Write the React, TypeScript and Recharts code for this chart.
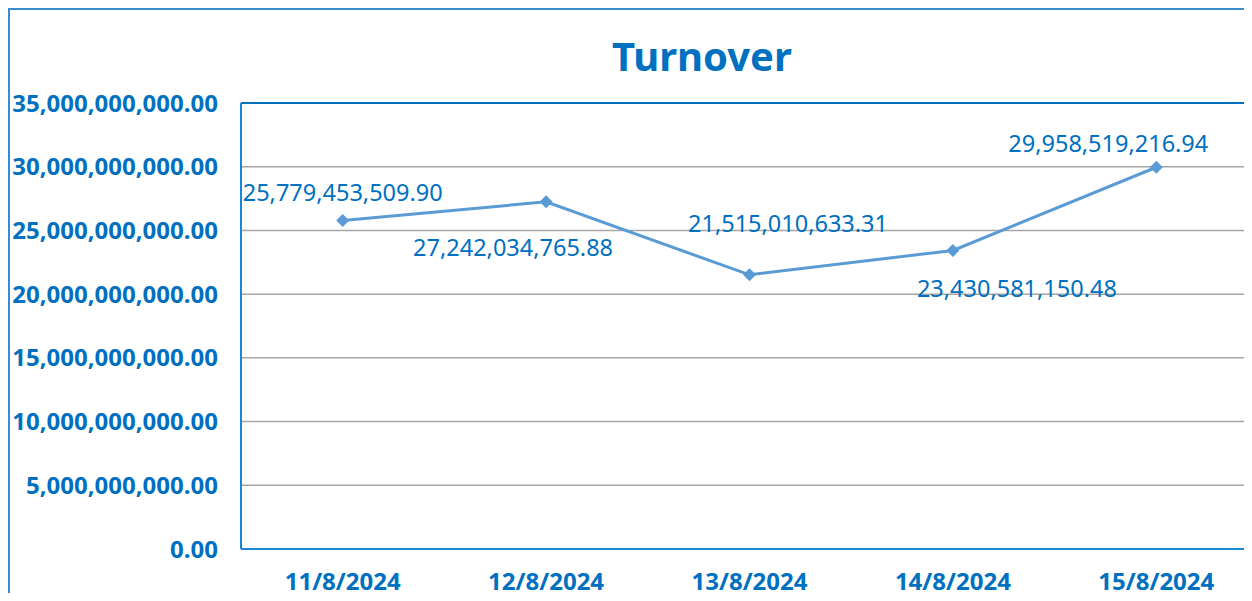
import { LineChart, Line, XAxis, YAxis, CartesianGrid, ReferenceLine } from 'recharts'

const dates = ['11/8/2024', '12/8/2024', '13/8/2024', '14/8/2024', '15/8/2024']
const turnover = [25779453509.9, 27242034765.88, 21515010633.31, 23430581150.48, 29958519216.94]
const yTicks = [0, 5000000000, 10000000000, 15000000000, 20000000000, 25000000000, 30000000000, 35000000000]

// where each value label sits relative to its point (dx, dy)
const labelOffsets = [
  [0, -28],
  [-33, 45],
  [38.5, -52],
  [64, 38],
  [-48, -24],
]

const data = dates.map((date, i) => ({ date, value: turnover[i] }))

const blue = '#0070C0'
const lineBlue = '#5B9BD5'
const font = '"Noto Sans", "Open Sans", sans-serif'

const fmt = (v: number) =>
  v.toLocaleString('en-US', { minimumFractionDigits: 2, maximumFractionDigits: 2 })

function Diamond(props: any) {
  const { cx, cy } = props
  if (cx == null || cy == null) return null
  const r = 6.5
  return (
    <polygon
      points={`${cx},${cy - r} ${cx + r},${cy} ${cx},${cy + r} ${cx - r},${cy}`}
      fill={lineBlue}
    />
  )
}

function ValueLabel(props: any) {
  const { x, y, value, index } = props
  const [dx, dy] = labelOffsets[index] || [0, -20]
  return (
    <text
      x={x + dx}
      y={y + dy}
      textAnchor="middle"
      dominantBaseline="central"
      fill={blue}
      fontSize={23.5}
      fontFamily={font}
    >
      {fmt(value)}
    </text>
  )
}

export default function App() {
  return (
    <div
      style={{
        position: 'relative',
        width: 1244,
        height: 593,
        marginBottom: -8,
        background: '#fff',
        fontFamily: font,
        overflow: 'hidden',
      }}
    >
      <div
        style={{
          position: 'absolute',
          left: 0,
          top: 0,
          right: 0,
          bottom: 0,
          borderLeft: '2px solid #3A8AD0',
          borderTop: '2px solid #3A8AD0',
          pointerEvents: 'none',
          zIndex: 2,
        }}
      />
      <div
        style={{
          position: 'absolute',
          left: 0,
          width: 1388,
          top: 22,
          textAlign: 'center',
          fontSize: 40,
          fontWeight: 700,
          color: blue,
          lineHeight: '52px',
        }}
      >
        Turnover
      </div>
      <LineChart
        width={1250}
        height={593}
        data={data}
        margin={{ top: 95, right: 0, left: 0, bottom: 0 }}
      >
        <CartesianGrid vertical={false} stroke="#A6A6A6" strokeWidth={1.5} />
        <ReferenceLine y={35000000000} stroke={blue} strokeWidth={2} />
        <XAxis
          dataKey="date"
          scale="band"
          height={52}
          axisLine={{ stroke: '#1A86D6', strokeWidth: 2 }}
          tickLine={false}
          tickSize={0}
          tickMargin={24}
          tick={{ fill: blue, fontSize: 24, fontWeight: 700, fontFamily: font }}
        />
        <YAxis
          width={233}
          domain={[0, 35000000000]}
          ticks={yTicks}
          tickFormatter={fmt}
          axisLine={{ stroke: '#1A86D6', strokeWidth: 2 }}
          tickLine={false}
          tickSize={0}
          tickMargin={23}
          tick={{ fill: blue, fontSize: 24, fontWeight: 700, fontFamily: font }}
        />
        <Line
          type="linear"
          dataKey="value"
          stroke={lineBlue}
          strokeWidth={3}
          dot={<Diamond />}
          activeDot={false}
          label={<ValueLabel />}
          isAnimationActive={false}
        />
      </LineChart>
    </div>
  )
}
